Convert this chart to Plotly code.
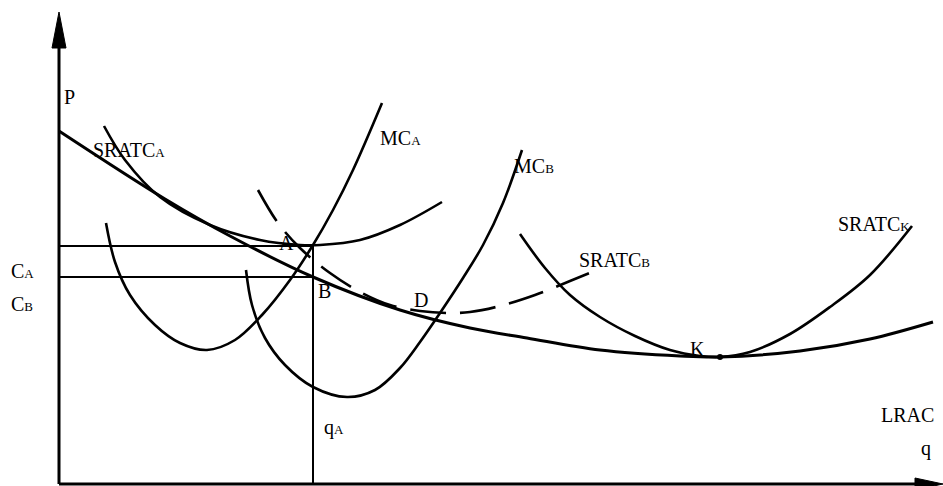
import plotly.graph_objects as go

# ---- curve data (diagram units: x to the right, y downward) ----
lrac_x = [59, 165, 230, 313, 400, 470, 527, 600, 680, 720, 800, 870, 933]
lrac_y = [131, 199, 236, 277, 310, 328, 338, 350, 356, 357, 351, 339, 322]

sratc_a_x = [104, 125, 160, 210, 260, 300, 320, 360, 400, 442]
sratc_a_y = [126, 160, 197, 225, 240, 245, 245, 240, 225, 202]

mc_a_x = [106, 115, 130, 155, 180, 207, 235, 262, 290, 313, 333, 353, 382]
mc_a_y = [223, 262, 295, 325, 343, 350, 340, 315, 280, 245, 210, 170, 103]

mc_b_x = [246, 252, 265, 285, 313, 347, 375, 400, 420, 440, 463, 483, 503, 522]
mc_b_y = [270, 305, 338, 365, 387, 397, 390, 368, 342, 313, 278, 245, 203, 150]

sratc_b_x = [258, 278, 300, 330, 362, 390, 420, 447, 470, 500, 535, 570, 597]
sratc_b_y = [190, 223, 248, 273, 293, 305, 311, 313, 312, 306, 295, 281, 270]

sratc_k_x = [520, 545, 570, 600, 635, 670, 700, 720, 750, 790, 830, 870, 912]
sratc_k_y = [234, 268, 295, 317, 336, 350, 356, 357, 352, 334, 307, 275, 226]

# reference lines
ca_level = 246
cb_level = 277
qa_pos = 313
axis_x0 = 59
axis_y0 = 484
k_point = (720, 357)

W, H = 943, 486
FONT = "Liberation Serif, Times New Roman, DejaVu Serif, serif"
LW = 2.6


def sub(main, s):
    return f'{main}<span style="font-size:13px">{s}</span>'


fig = go.Figure()


def curve(x, y, dash="solid", width=LW):
    fig.add_trace(go.Scatter(x=x, y=y, mode="lines",
                             line=dict(color="black", width=width, shape="spline",
                                       smoothing=1.0, dash=dash),
                             hoverinfo="skip", showlegend=False))


curve(lrac_x, lrac_y, width=3)
curve(sratc_a_x, sratc_a_y)
curve(mc_a_x, mc_a_y)
curve(mc_b_x, mc_b_y)
curve(sratc_b_x, sratc_b_y, dash="36px,14px")
curve(sratc_k_x, sratc_k_y)

# K point
fig.add_trace(go.Scatter(x=[k_point[0]], y=[k_point[1]], mode="markers",
                         marker=dict(color="black", size=6), hoverinfo="skip",
                         showlegend=False))

line_style = dict(color="black", width=2)
# C_A, C_B horizontal lines and q_A vertical
fig.add_shape(type="line", x0=axis_x0, x1=qa_pos, y0=ca_level, y1=ca_level, line=line_style)
fig.add_shape(type="line", x0=axis_x0, x1=qa_pos, y0=cb_level, y1=cb_level, line=line_style)
fig.add_shape(type="line", x0=qa_pos, x1=qa_pos, y0=ca_level, y1=axis_y0, line=line_style)

# axes
ax_style = dict(color="black", width=3)
fig.add_shape(type="line", x0=axis_x0, x1=axis_x0, y0=40, y1=axis_y0, line=ax_style)
fig.add_shape(type="line", x0=axis_x0, x1=925, y0=axis_y0, y1=axis_y0, line=ax_style)
# arrow heads
fig.add_shape(type="path", path=f"M {axis_x0-7} 48 L {axis_x0} 12 L {axis_x0+7} 48 Z",
              fillcolor="black", line=dict(color="black", width=1))
fig.add_shape(type="path", path=f"M 915 {axis_y0-6} L 943 {axis_y0} L 915 {axis_y0+6} Z",
              fillcolor="black", line=dict(color="black", width=1))

labels = [
    ("P", 62, 97),
    (sub("SRATC", "A"), 91, 150),
    (sub("MC", "A"), 378, 138),
    (sub("MC", "B"), 512, 166),
    (sub("SRATC", "B"), 577, 260),
    (sub("SRATC", "K"), 836, 224),
    ("K", 688, 349),
    ("LRAC", 879, 415),
    ("q", 919, 448),
    (sub("C", "A"), 9, 271),
    (sub("C", "B"), 9, 304),
    ("A", 277, 243),
    ("B", 316, 291),
    ("D", 412, 300),
    (sub("q", "A"), 322, 427),
]
for t, x, y in labels:
    fig.add_annotation(x=x, y=y, text=t, showarrow=False, xanchor="left",
                       yanchor="middle", font=dict(family=FONT, size=20, color="black"))

fig.update_xaxes(range=[0, W], visible=False, fixedrange=True)
fig.update_yaxes(range=[H, 0], visible=False, fixedrange=True)
fig.update_layout(width=W, height=H, margin=dict(l=0, r=0, t=0, b=0),
                  plot_bgcolor="white", paper_bgcolor="white", showlegend=False)

fig.write_html("out.html", config={"displayModeBar": False},
               post_script="document.body.style.margin='0px';document.body.style.overflow='hidden';")
